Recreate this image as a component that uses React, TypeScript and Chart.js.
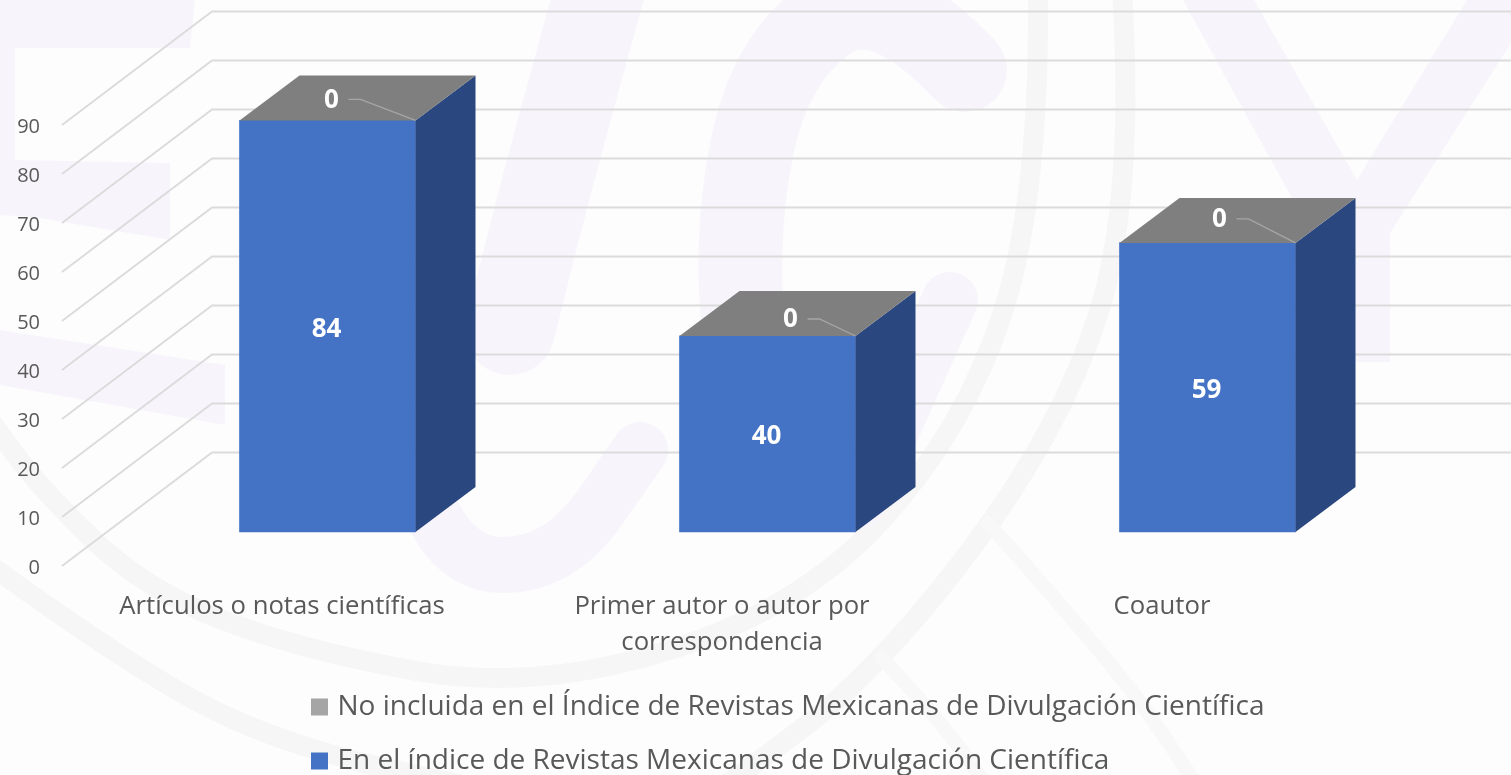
import React, { useEffect, useRef } from "react";
import { Chart, registerables } from "chart.js";

Chart.register(...registerables);

const categories = [
  "Artículos o notas científicas",
  ["Primer autor o autor por", "correspondencia"],
  "Coautor",
];
const indexedValues = [84, 40, 59];
const notIndexedValues = [0, 0, 0];
const indexedName = "En el índice de Revistas Mexicanas de Divulgación Científica";
const notIndexedName = "No incluida en el Índice de Revistas Mexicanas de Divulgación Científica";
const yTicks = [0, 10, 20, 30, 40, 50, 60, 70, 80, 90];

const FONT = "'Open Sans', 'Noto Sans', sans-serif";
const TEXT = "#595959";
const WALL = { x: 150, y: -113.5 };
const BAR_SHIFT = { x: 45.5, y: -34 };
const BAR_DEPTH = { x: 60, y: -45 };
const ZERO_OFFSET = [
  { x: -84, y: -20, run: 12 },
  { x: -65, y: -16, run: 12 },
  { x: -76, y: -23, run: 12 },
];

const poly = (ctx: CanvasRenderingContext2D, pts: number[][], fill: string) => {
  ctx.beginPath();
  pts.forEach(([x, y], i) => (i ? ctx.lineTo(x, y) : ctx.moveTo(x, y)));
  ctx.closePath();
  ctx.fillStyle = fill;
  ctx.fill();
};

const smooth = (ctx: CanvasRenderingContext2D, pts: number[][], color: string, width: number) => {
  ctx.beginPath();
  ctx.moveTo(pts[0][0], pts[0][1]);
  for (let i = 1; i < pts.length - 1; i++) {
    const mx = (pts[i][0] + pts[i + 1][0]) / 2;
    const my = (pts[i][1] + pts[i + 1][1]) / 2;
    ctx.quadraticCurveTo(pts[i][0], pts[i][1], mx, my);
  }
  const last = pts[pts.length - 1];
  ctx.lineTo(last[0], last[1]);
  ctx.strokeStyle = color;
  ctx.lineWidth = width;
  ctx.stroke();
};

const watermark = {
  id: "watermark",
  beforeDraw(chart: any) {
    const { ctx, width, height } = chart;
    const grey = "#f6f6f6";
    const faint = "#f8f8f8";
    const lav = "#f7f5fb";
    ctx.save();
    ctx.fillStyle = "#fdfdfd";
    ctx.fillRect(0, 0, width, height);
    ctx.lineCap = "round";
    smooth(ctx, [[1038, -10], [1040, 200], [964, 430], [800, 610], [533, 692], [300, 650], [145, 590], [39, 487], [-10, 420]], grey, 20);
    smooth(ctx, [[1122, -10], [1135, 200], [1061, 430], [880, 670], [720, 790]], grey, 20);
    smooth(ctx, [[-10, 565], [145, 677], [290, 747], [485, 790]], grey, 20);
    smooth(ctx, [[988, 523], [1120, 670], [1200, 790]], faint, 14);
    smooth(ctx, [[881, 657], [940, 720], [990, 790]], faint, 14);
    smooth(ctx, [[965, 70], [880, -20], [770, 60], [735, 230], [750, 400], [800, 480]], lav, 84);
    smooth(ctx, [[950, 300], [905, 400], [860, 500]], lav, 56);
    smooth(ctx, [[600, -10], [550, 170], [510, 330]], lav, 90);
    smooth(ctx, [[420, 480], [445, 565], [560, 565], [640, 450]], lav, 56);
    poly(ctx, [[1183, 0], [1254, 0], [1357, 180], [1467, 0], [1511, 0], [1511, 43], [1390, 233], [1390, 362], [1293, 362], [1293, 200]], lav);
    poly(ctx, [[0, 0], [195, 0], [190, 48], [15, 48], [15, 160], [170, 163], [170, 240], [33, 217], [0, 215]], lav);
    poly(ctx, [[0, 330], [225, 365], [225, 425], [0, 385]], lav);
    ctx.restore();
  },
};

const wall3d = {
  id: "wall3d",
  beforeDatasetsDraw(chart: any) {
    const { ctx, chartArea, scales } = chart;
    ctx.save();
    ctx.strokeStyle = "#dbdbdb";
    ctx.lineWidth = 1.8;
    yTicks.forEach((t) => {
      const y = scales.y.getPixelForValue(t);
      ctx.beginPath();
      ctx.moveTo(chartArea.left, y);
      ctx.lineTo(chartArea.left + WALL.x, y + WALL.y);
      ctx.lineTo(chart.width, y + WALL.y);
      ctx.stroke();
    });
    ctx.restore();
    ctx.save();
    ctx.translate(BAR_SHIFT.x, BAR_SHIFT.y);
  },
  afterDatasetsDraw(chart: any) {
    const { ctx } = chart;
    const bars = chart.getDatasetMeta(0).data;
    const tops = chart.getDatasetMeta(1).data;
    bars.forEach((bar: any, i: number) => {
      const p = bar.getProps(["x", "y", "base", "width"], true);
      const l = p.x - p.width / 2;
      const r = p.x + p.width / 2;
      poly(ctx, [[r, p.y], [r + BAR_DEPTH.x, p.y + BAR_DEPTH.y], [r + BAR_DEPTH.x, p.base + BAR_DEPTH.y], [r, p.base]], "#2a4780");
      const topY = tops[i].getProps(["y"], true).y;
      poly(ctx, [[l, topY], [l + BAR_DEPTH.x, topY + BAR_DEPTH.y], [r + BAR_DEPTH.x, topY + BAR_DEPTH.y], [r, topY]], "#7f7f7f");

      ctx.fillStyle = "#ffffff";
      ctx.font = `bold 26px ${FONT}`;
      ctx.textAlign = "center";
      ctx.textBaseline = "middle";
      ctx.fillText(String(indexedValues[i]), p.x - 1, (p.y + p.base) / 2 + 3);
      const z = ZERO_OFFSET[i];
      const lx = r + z.x;
      const ly = topY + z.y;
      ctx.fillText(String(notIndexedValues[i]), lx, ly);
      ctx.beginPath();
      ctx.moveTo(lx + 17, ly - 1);
      ctx.lineTo(lx + 17 + z.run, ly - 1);
      ctx.lineTo(r, topY);
      ctx.strokeStyle = "#a6a6a6";
      ctx.lineWidth = 1.3;
      ctx.stroke();
    });
    ctx.restore();
  },
};

const placeLegend = {
  id: "placeLegend",
  afterLayout(chart: any) {
    const lg = chart.legend;
    lg.left = 289.5;
    lg.right = 1450;
    lg.top = 667;
    lg.bottom = 830;
    lg.width = lg.right - lg.left;
    lg.height = lg.bottom - lg.top;
  },
};

export default function App() {
  const ref = useRef<HTMLCanvasElement>(null);
  useEffect(() => {
    document.body.style.margin = "0";
    const chart = new Chart(ref.current as HTMLCanvasElement, {
      type: "bar",
      data: {
        labels: categories as any,
        datasets: [
          { label: indexedName, data: indexedValues, backgroundColor: "#4472c4", clip: false as any },
          { label: notIndexedName, data: notIndexedValues, backgroundColor: "#a5a5a5", clip: false as any },
        ],
      },
      options: {
        responsive: false,
        animation: false,
        layout: { padding: { top: 12, right: 129, left: 0, bottom: 0 } },
        scales: {
          x: {
            stacked: true,
            grid: { display: false },
            border: { display: false },
            ticks: {
              color: TEXT,
              padding: 15,
              maxRotation: 0,
              autoSkip: false,
              font: { family: FONT, size: 25.7, lineHeight: 1.4 },
            },
            afterFit: (s: any) => {
              s.height = 209;
            },
          },
          y: {
            stacked: true,
            min: 0,
            max: 110.2,
            grid: { display: false },
            border: { display: false },
            afterBuildTicks: (s: any) => {
              s.ticks = yTicks.map((value) => ({ value }));
            },
            ticks: {
              color: TEXT,
              padding: 14,
              labelOffset: 2,
              font: { family: FONT, size: 20 },
            },
            afterFit: (s: any) => {
              s.width = 62;
            },
          },
        },
        datasets: { bar: { barThickness: 176 } },
        plugins: {
          tooltip: { enabled: false },
          legend: {
            position: "chartArea" as any,
            align: "start",
            reverse: true,
            labels: {
              color: TEXT,
              usePointStyle: true,
              pointStyle: "rect",
              boxWidth: 8,
              boxHeight: 17,
              padding: 26,
              font: { family: FONT, size: 28 },
            },
          },
        },
      },
      plugins: [watermark, wall3d, placeLegend],
    });
    return () => chart.destroy();
  }, []);
  return <canvas ref={ref} width={1511} height={775} style={{ display: "block" }} />;
}
